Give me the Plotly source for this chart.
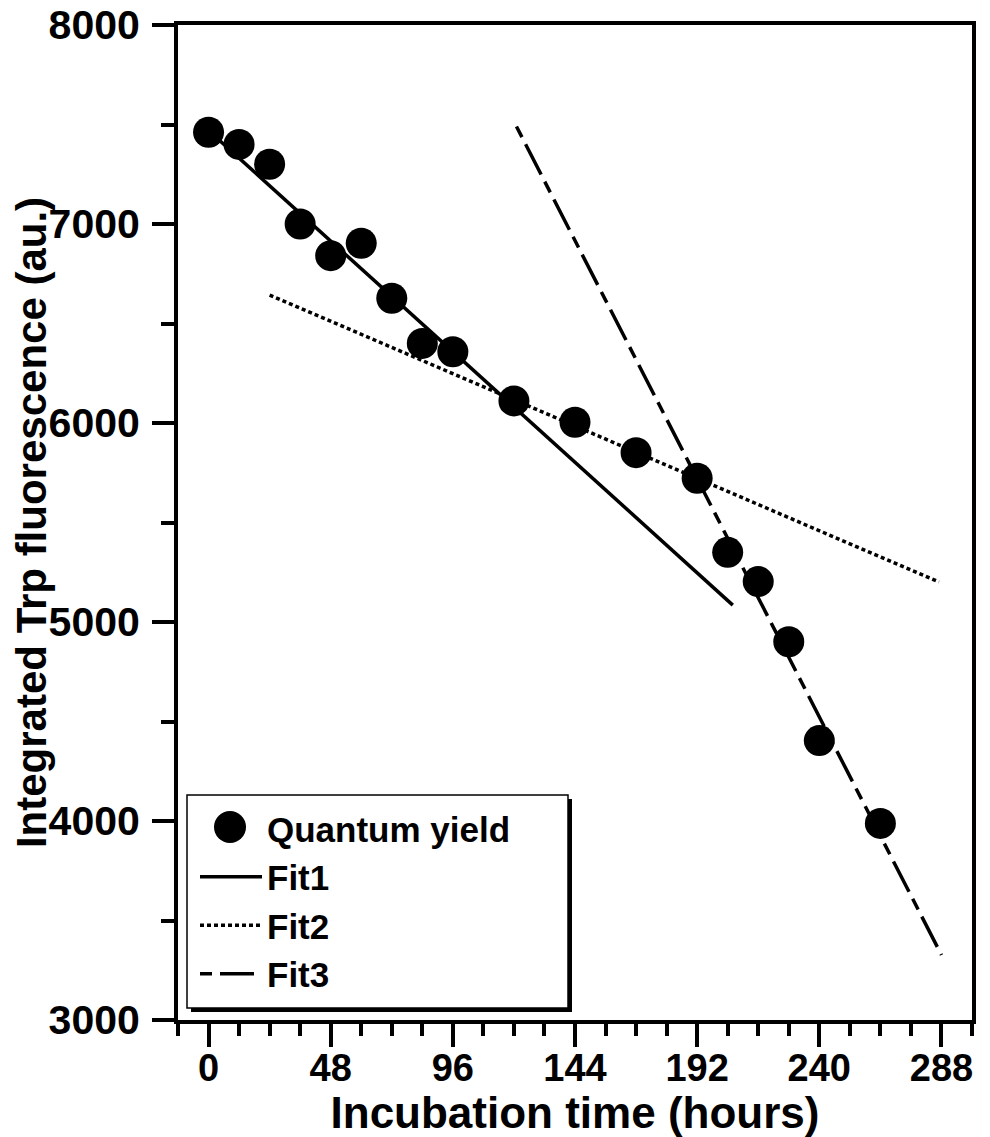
import plotly.graph_objects as go

# ---- data ----
time_h = [0, 12, 24, 36, 48, 60, 72, 84, 96, 120, 144, 168, 192, 204, 216, 228, 240, 264]
quantum_yield = [7461, 7400, 7300, 7000, 6841, 6903, 6627, 6400, 6358, 6111, 6004, 5851,
                 5722, 5350, 5203, 4901, 4404, 3988]

fit1_x = [0, 206]
fit1_y = [7470, 5085]
fit2_x = [24, 287]
fit2_y = [6643, 5201]
fit3_x = [121, 288]
fit3_y = [7490, 3327]

x_tickvals = [0, 48, 96, 144, 192, 240, 288]
y_tickvals = [3000, 4000, 5000, 6000, 7000, 8000]

FONT = "Liberation Sans, Arial, sans-serif"

fig = go.Figure()
fig.add_trace(go.Scatter(x=time_h, y=quantum_yield, mode="markers", name="Quantum yield",
                         marker=dict(symbol="circle", size=31, color="black")))
fig.add_trace(go.Scatter(x=fit1_x, y=fit1_y, mode="lines", name="Fit1",
                         line=dict(color="black", width=3.5)))
fig.add_trace(go.Scatter(x=fit2_x, y=fit2_y, mode="lines", name="Fit2",
                         line=dict(color="black", width=3.5, dash="4px,3px")))
fig.add_trace(go.Scatter(x=fit3_x, y=fit3_y, mode="lines", name="Fit3",
                         line=dict(color="black", width=3.5, dash="12px,8px,34px,8px")))

# page body has an 8px margin: figure sized so it ends at the window edge
OFF = 8
W, H = 990 - OFF, 1137 - OFF
L, T = 178 - OFF, 25 - OFF
R = W - (972 - OFF)
B = H - (1020 - OFF)
PW, PH = W - L - R, H - T - B


def px(x):  # page pixel -> paper
    return (x - OFF - L) / PW


def py(y):
    return (H - B - (y - OFF)) / PH


shapes = [
    # legend shadow and box
    dict(type="rect", xref="paper", yref="paper", x0=px(191), x1=px(572), y0=py(1012), y1=py(799),
         fillcolor="black", line=dict(width=0), layer="above"),
    dict(type="rect", xref="paper", yref="paper", x0=px(187), x1=px(568), y0=py(1008), y1=py(795),
         fillcolor="white", line=dict(color="black", width=1.5), layer="above"),
    # enlarged legend symbol for the markers
    dict(type="circle", xref="paper", yref="paper", x0=px(214), x1=px(246), y0=py(843), y1=py(811),
         fillcolor="black", line=dict(width=0), layer="above"),
]

fig.update_layout(
    width=W, height=H,
    margin=dict(l=L, r=R, t=T, b=B, pad=0, autoexpand=False),
    paper_bgcolor="white", plot_bgcolor="white",
    font=dict(family=FONT, color="black", weight="bold"),
    showlegend=True,
    legend=dict(x=px(195), y=py(799), xanchor="left", yanchor="top",
                bgcolor="rgba(0,0,0,0)", borderwidth=0,
                font=dict(family=FONT, size=35, color="black", weight="bold"),
                itemwidth=62, tracegroupgap=0),
    shapes=shapes,
    xaxis=dict(range=[-12, 300], tickmode="array", tickvals=x_tickvals, automargin=False,
               ticks="outside", ticklen=23, tickwidth=4, tickcolor="black",
               ticklabelstandoff=-12, ticklabeloverflow="allow",
               minor=dict(dtick=12, tick0=0, ticks="outside", ticklen=12, tickwidth=4, tickcolor="black"),
               showline=True, linewidth=4, linecolor="black", mirror=True,
               showgrid=False, zeroline=False,
               tickfont=dict(family=FONT, size=38, weight="bold"),
               title=dict(text="Incubation time (hours)", standoff=19,
                          font=dict(family=FONT, size=44, weight="bold"))),
    yaxis=dict(range=[3000, 8000], tickmode="array", tickvals=y_tickvals, automargin=False,
               ticks="outside", ticklen=22, tickwidth=4, tickcolor="black",
               ticklabelstandoff=4, ticklabeloverflow="allow",
               minor=dict(dtick=500, tick0=0, ticks="outside", ticklen=13, tickwidth=4, tickcolor="black"),
               showline=True, linewidth=4, linecolor="black", mirror=True,
               showgrid=False, zeroline=False,
               tickfont=dict(family=FONT, size=41, weight="bold"),
               title=dict(text="Integrated Trp fluorescence (au.)", standoff=0,
                          font=dict(family=FONT, size=42, weight="bold"))),
)

fig.write_html("out.html")
